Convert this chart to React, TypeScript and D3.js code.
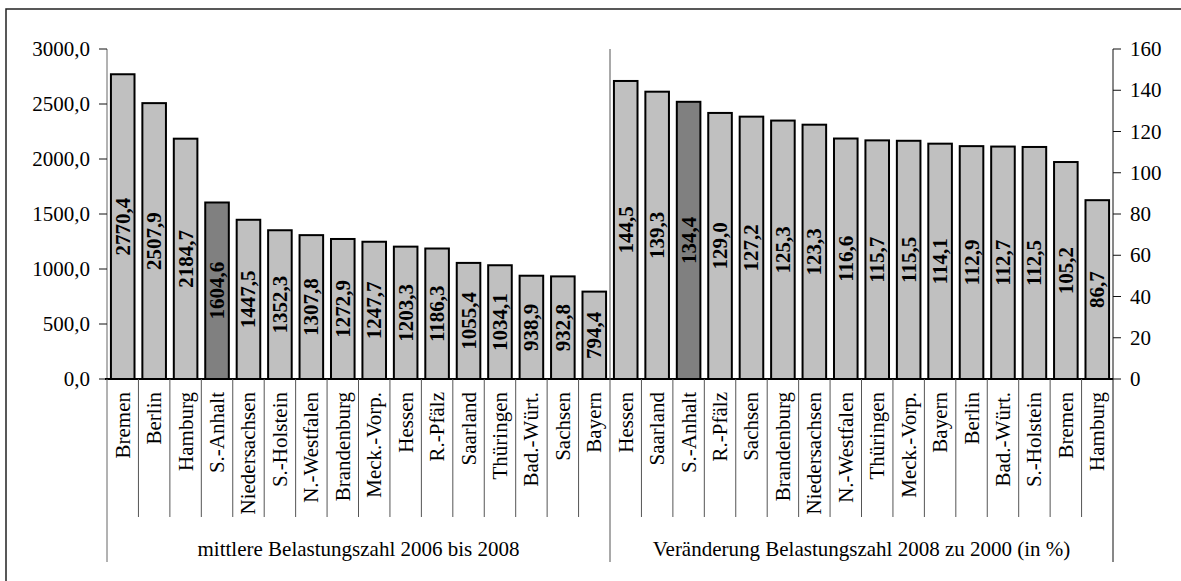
import React from "react";
import * as d3 from "d3";

const leftCategories = ["Bremen","Berlin","Hamburg","S.-Anhalt","Niedersachsen","S.-Holstein","N.-Westfalen","Brandenburg","Meck.-Vorp.","Hessen","R.-Pfälz","Saarland","Thüringen","Bad.-Würt.","Sachsen","Bayern"];
const leftValues = [2770.4,2507.9,2184.7,1604.6,1447.5,1352.3,1307.8,1272.9,1247.7,1203.3,1186.3,1055.4,1034.1,938.9,932.8,794.4];
const rightCategories = ["Hessen","Saarland","S.-Anhalt","R.-Pfälz","Sachsen","Brandenburg","Niedersachsen","N.-Westfalen","Thüringen","Meck.-Vorp.","Bayern","Berlin","Bad.-Würt.","S.-Holstein","Bremen","Hamburg"];
const rightValues = [144.5,139.3,134.4,129.0,127.2,125.3,123.3,116.6,115.7,115.5,114.1,112.9,112.7,112.5,105.2,86.7];
const leftTicks = [0,500,1000,1500,2000,2500,3000];
const rightTicks = [0,20,40,60,80,100,120,140,160];
const groupLabels = ["mittlere Belastungszahl 2006 bis 2008","Veränderung Belastungszahl 2008 zu 2000 (in %)"];
const highlight = "S.-Anhalt";

const W = 1181, H = 581;
const X0 = 107, X1 = 1113, YTOP = 49, YBASE = 379;
const FONT = "'Liberation Serif', 'Times New Roman', serif";

export default function App() {
  const n = leftCategories.length + rightCategories.length;
  const idx = d3.range(n);
  const x = d3.scaleBand<number>().domain(idx).range([X0, X1]).paddingInner(0.25).paddingOuter(0.125);
  const step = x.step();
  const yL = d3.scaleLinear().domain([0, 3000]).range([YBASE, YTOP]);
  const yR = d3.scaleLinear().domain([0, 160]).range([YBASE, YTOP]);
  const fmt = (v: number) => d3.format(".1f")(v).replace(".", ",");

  const bars = [
    ...leftCategories.map((c, i) => ({ c, v: leftValues[i], i, y: yL })),
    ...rightCategories.map((c, i) => ({ c, v: rightValues[i], i: i + leftCategories.length, y: yR })),
  ];
  const mid = X0 + step * leftCategories.length;

  return (
    <svg width={W} height={H} style={{ position: "fixed", left: 0, top: 0, background: "#fff" }} fontFamily={FONT}>
      <rect x={6} y={9} width={W} height={H} fill="none" stroke="#222" strokeWidth={1.5} />
      {/* left axis */}
      <line x1={X0} x2={X0} y1={YTOP} y2={YBASE} stroke="#666" strokeWidth={1} />
      {leftTicks.map(t => (
        <g key={"lt" + t}>
          <line x1={X0 - 8} x2={X0} y1={yL(t)} y2={yL(t)} stroke="#111" strokeWidth={1} />
          <text x={90} y={yL(t)} textAnchor="end" dominantBaseline="central" fontSize={21}>{fmt(t)}</text>
        </g>
      ))}
      {/* right axis */}
      <line x1={X1} x2={X1} y1={YTOP} y2={YBASE} stroke="#111" strokeWidth={1} />
      {rightTicks.map(t => (
        <g key={"rt" + t}>
          <line x1={X1} x2={X1 + 8} y1={yR(t)} y2={yR(t)} stroke="#111" strokeWidth={1} />
          <text x={1130} y={yR(t)} textAnchor="start" dominantBaseline="central" fontSize={21}>{t}</text>
        </g>
      ))}
      {/* bars */}
      {bars.map(b => {
        const bx = x(b.i)!;
        const top = b.y(b.v);
        return (
          <g key={"b" + b.i}>
            <rect x={bx} y={top} width={x.bandwidth()} height={YBASE - top}
              fill={b.c === highlight ? "#808080" : "#c0c0c0"} stroke="#000" strokeWidth={2} />
            <text transform={`translate(${bx + x.bandwidth() / 2},${(top + YBASE) / 2}) rotate(-90)`}
              textAnchor="middle" dominantBaseline="central" fontSize={21} fontWeight="bold">{fmt(b.v)}</text>
          </g>
        );
      })}
      {/* base line */}
      <line x1={X0 - 2} x2={X1} y1={YBASE} y2={YBASE} stroke="#000" strokeWidth={2} />
      {/* category separators */}
      {d3.range(1, n).filter(i => i !== leftCategories.length).map(i => (
        <line key={"s" + i} x1={X0 + step * i} x2={X0 + step * i} y1={YBASE} y2={517} stroke="#555" strokeWidth={1} />
      ))}
      {/* group separators */}
      <line x1={X0} x2={X0} y1={YBASE} y2={562} stroke="#666" strokeWidth={1} />
      <line x1={mid} x2={mid} y1={YTOP} y2={562} stroke="#555" strokeWidth={1} />
      <line x1={X1} x2={X1} y1={YBASE} y2={562} stroke="#111" strokeWidth={1} />
      {/* category labels */}
      {bars.map(b => (
        <text key={"c" + b.i} transform={`translate(${X0 + step * (b.i + 0.5)},392) rotate(-90)`}
          textAnchor="end" dominantBaseline="central" fontSize={21}>{b.c}</text>
      ))}
      {/* group labels */}
      <text x={(X0 + mid) / 2} y={556} textAnchor="middle" fontSize={21}>{groupLabels[0]}</text>
      <text x={(mid + X1) / 2} y={556} textAnchor="middle" fontSize={21}>{groupLabels[1]}</text>
    </svg>
  );
}
